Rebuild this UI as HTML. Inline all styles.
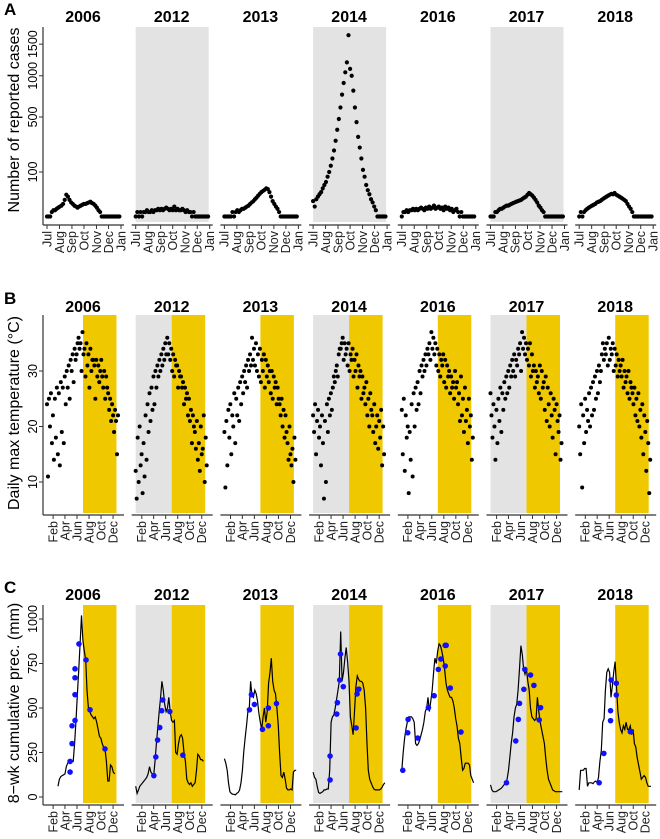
<!DOCTYPE html>
<html><head><meta charset="utf-8"><style>
html,body{margin:0;padding:0;background:#fff;}
svg{display:block;font-family:"Liberation Sans",Arial,sans-serif;}
</style></head><body>
<svg id="fig" width="660" height="839" viewBox="0 0 660 839" xmlns="http://www.w3.org/2000/svg"></svg>
<script>
// ---------- data ----------
const years = ["2006","2012","2013","2014","2016","2017","2018"];
const grayYears = [false,true,false,true,false,true,false];

// Panel A: reported cases, sampled every 4 days from Jul 1
const casesStep = 4;
const cases2006 = [0,0,0,1,2,2,3,4,5,6,8,14,24,20,14,10,8,6,5,4,5,6,7,8,8,9,10,11,9,8,6,4,2,1,0,0,0,0,0,0,0,0,0,0,0,0];
const cases2012 = [0,1,0,1,0,1,1,2,1,1,2,1,2,2,3,2,3,2,3,4,3,2,3,2,5,2,3,2,2,3,2,1,2,1,1,0,1,0,0,0,0,0,0,0,0,0];
const cases2013 = [0,0,0,0,0,1,0,1,2,1,2,3,3,4,5,6,8,10,12,15,18,22,26,30,33,36,40,38,30,20,12,8,5,3,1,0,0,0,0,0,0,0,0,0,0,0];
const cases2014 = [12,5,15,20,25,30,40,50,60,80,100,130,170,220,290,380,480,600,750,900,1050,1200,1660,1100,1000,800,600,450,320,240,170,110,80,50,35,25,15,10,5,2,0,0,0,0,0,0];
const cases2016 = [0,1,1,2,1,2,2,3,2,3,2,3,4,3,2,4,3,5,3,4,6,3,4,5,3,4,2,5,3,4,2,3,1,2,3,1,0,1,0,0,0,0,0,0,0,0];
const cases2017 = [0,0,0,1,1,2,3,3,4,5,6,6,7,8,9,10,11,12,13,14,16,18,20,24,28,25,22,18,14,10,6,4,2,1,0,0,0,0,0,0,0,0,0,0,0,0];
const cases2018 = [0,1,0,1,2,3,4,5,6,7,8,10,11,12,14,16,18,20,22,24,26,25,28,24,22,20,18,16,14,12,8,5,3,1,0,0,0,0,0,0,0,0,0,0,0,0];
const casesAll = [cases2006,cases2012,cases2013,cases2014,cases2016,cases2017,cases2018];
const casesTicks = [100,500,1000,1500];
const casesMonths = ["Jul","Aug","Sep","Oct","Nov","Dec","Jan"];
const casesMonthDays = [0,31,62,92,123,153,184];

// Panel B: daily max temperature, sampled every 5 days from Jan 1
const tempStep = 5;
const temp2006 = [24,11,25,20,26,17,22,14,25,18,27,15,26,13,28,19,27,17,29,24,30,27,31,25,32,30,33,28,34,32,33,35,36,34,35,30,37,33,34,29,35,31,33,27,34,30,32,32,31,25,32,29,31,28,30,32,29,27,30,25,29,27,26,23,25,21,24,22,19,23,21,15,22];
const temp2012 = [12,7,18,10,20,13,15,8,17,11,22,14,24,19,26,21,27,23,29,24,30,27,31,29,32,30,33,31,34,32,35,33,36,33,35,32,34,30,33,29,32,31,31,27,30,29,29,27,28,24,27,25,26,22,25,21,23,17,22,20,19,16,21,14,17,12,20,15,16,22,10,18,13];
const temp2013 = [19,9,21,13,23,18,24,15,22,20,26,17,25,22,27,21,28,24,29,26,30,28,31,27,32,30,33,31,36,32,34,31,35,30,33,29,34,28,32,30,33,27,32,29,31,28,30,26,30,25,29,27,28,24,27,25,24,22,25,20,23,18,22,19,17,14,20,15,13,16,10,18,14];
const temp2014 = [22,19,24,15,21,23,18,20,13,22,17,7,21,10,24,19,25,22,26,23,27,29,28,30,31,29,33,34,34,35,36,32,35,33,34,31,35,30,33,32,34,29,32,30,33,27,31,29,30,25,29,26,27,24,28,22,25,20,26,23,22,19,24,17,20,22,16,21,18,23,13,20,15];
const temp2016 = [23,15,25,12,22,18,20,8,19,14,24,11,26,20,27,23,28,24,30,26,31,29,32,30,33,31,34,33,35,32,37,34,36,33,35,31,34,30,33,29,32,31,33,28,32,27,31,29,30,26,29,27,28,25,30,27,28,24,26,21,29,22,25,19,27,21,23,17,25,20,22,14,18];
const temp2017 = [26,22,18,24,20,14,23,17,25,21,27,19,26,23,28,25,29,26,30,27,31,29,32,30,33,29,32,31,34,33,35,30,37,34,36,33,35,32,34,31,35,29,33,30,31,27,30,28,29,26,31,25,30,27,28,23,29,21,27,24,20,26,22,18,25,23,15,24,21,19,22,14,17];
const temp2018 = [20,15,24,9,22,17,25,19,23,21,26,20,27,22,28,23,29,25,30,26,31,28,30,33,35,32,34,33,35,31,36,32,34,33,35,30,34,31,33,29,32,30,31,29,32,27,30,28,29,26,30,25,28,27,26,24,27,22,25,21,26,20,23,18,24,15,22,19,12,21,17,8,14];
const tempAll = [temp2006,temp2012,temp2013,temp2014,temp2016,temp2017,temp2018];
const tempTicks = [10,20,30];
const yearMonths = ["Feb","Apr","Jun","Aug","Oct","Dec"];
const yearMonthDays = [31,91,152,213,274,335];

// Panel C: 8-wk cumulative precipitation, weekly from start day
const precStep = 7;
const precStart = [56,0,0,0,0,0,0];
const prec2006 = [60,100,115,120,125,130,170,190,200,210,200,200,300,430,580,720,860,1020,880,820,770,600,500,480,460,450,440,450,420,380,340,330,300,280,270,200,90,90,180,170,140,130];
const prec2012 = [60,20,40,60,70,80,90,100,110,130,170,140,130,120,200,300,390,480,560,650,600,520,480,500,560,480,430,420,430,250,240,300,340,350,330,250,200,100,80,70,80,60,70,80,150,240,230,210,210,200];
const prec2013 = [215,190,150,80,30,20,15,15,12,20,25,40,80,150,250,330,400,480,500,650,570,560,600,580,540,470,420,380,450,500,420,480,640,700,780,650,600,580,500,400,250,120,110,140,100,50,40,40,45,40,140,150,150];
const prec2014 = [140,110,100,60,25,20,25,30,40,40,45,45,150,420,450,460,500,550,600,650,930,650,700,780,840,760,650,450,400,350,480,620,680,660,650,650,640,600,500,300,150,100,80,60,45,40,40,40,40,45,55,70,80];
const prec2016 = [150,250,330,380,420,450,450,450,440,420,300,290,300,320,350,380,420,480,500,560,480,540,600,700,780,750,820,860,850,820,780,720,640,600,580,560,560,540,500,440,400,330,300,220,150,160,190,190,190,180,120,100,80];
const prec2017 = [68,40,30,30,30,35,40,45,50,60,70,80,100,150,220,300,360,450,500,520,600,720,850,800,720,690,720,650,600,500,450,440,430,440,560,480,420,380,340,300,220,150,100,80,60,40,35,30,30,30,30,30,30];
const prec2018 = [40,150,150,150,160,160,60,80,80,80,75,85,90,80,110,200,260,420,440,600,700,720,700,560,620,700,760,620,480,420,380,360,400,380,420,380,380,400,350,380,300,280,220,180,140,100,110,120,110,80,60,60,60];
const precAll = [prec2006,prec2012,prec2013,prec2014,prec2016,prec2017,prec2018];
// blue points (day of year, value)
const blueDays2006 = [117,117,127,127,142,142,142,142,162,198,218,294];
const blueVals2006 = [140,200,300,400,430,575,670,720,860,770,490,270];
const blueDays2012 = [92,102,111,122,132,137,173,239];
const blueVals2012 = [120,225,320,390,485,545,480,235];
const blueDays2013 = [127,137,152,193,223,223,264];
const blueVals2013 = [490,575,520,380,400,500,525];
const blueDays2014 = [86,86,120,123,135,139,153,218,223,232];
const blueVals2014 = [96,230,466,530,657,803,620,388,579,606];
const blueDays2016 = [5,30,32,81,135,164,185,198,220,225,220,246,300];
const blueVals2016 = [150,361,436,331,502,569,717,775,852,852,736,612,365];
const blueDays2017 = [81,128,141,147,169,174,203,220,247,254];
const blueVals2017 = [80,315,436,526,605,717,685,627,433,502];
const blueDays2018 = [101,125,159,159,162,188,188,259,264];
const blueVals2018 = [80,245,429,485,657,573,639,367,367];
const blueDaysAll = [blueDays2006,blueDays2012,blueDays2013,blueDays2014,blueDays2016,blueDays2017,blueDays2018];
const blueValsAll = [blueVals2006,blueVals2012,blueVals2013,blueVals2014,blueVals2016,blueVals2017,blueVals2018];
const precTicks = [0,250,500,750,1000];

// ---------- layout ----------
const NS = "http://www.w3.org/2000/svg";
const svg = document.getElementById("fig");
function mk(tag, attrs, parent){ const e=document.createElementNS(NS,tag); for(const k in attrs) e.setAttribute(k,attrs[k]); (parent||svg).appendChild(e); return e; }
const panelLeft = i => 43 + i*88.7;
const GRAY="#e3e3e3", GOLD="#f0c800";

const xA = (i,day) => panelLeft(i)+4 + day*(74/184);
const yA = v => 216.5 - Math.sqrt(v)*4.45;
const xY = (i,day) => panelLeft(i)+4 + day*(72/365);
const yB = t => 482 - (t-10)*5.55;
const yC = v => 797 - v*0.178;

function rotText(x,y,s,size,anchor,name){
  const t = mk("text",{transform:`translate(${x},${y}) rotate(-90)`,"font-size":size,"text-anchor":anchor,fill:"#000"});
  t.textContent=s;
  
  
  return t;
}

function drawRow(cfg){
  const g = mk("g",{});
  
  
  const L = mk("text",{x:4,y:cfg.letterY,"font-size":17,"font-weight":"bold"},g);
  L.textContent = cfg.letter;
  
  
  for(let i=0;i<7;i++){
    const left = panelLeft(i);
    const pg = mk("g",{},g);
    
    
    cfg.bands(i,pg);
    const tt = mk("text",{x:left+40,y:cfg.titleY,"font-size":16,"font-weight":"bold","text-anchor":"middle"},pg);
    tt.textContent = years[i];
    
    
    const ax = mk("line",{x1:left,x2:left+81,y1:cfg.axisY,y2:cfg.axisY,stroke:"#333","stroke-width":1.2},pg);
    
    
    cfg.months.forEach((m,k)=>{
      const x = cfg.xs(i,cfg.monthDays[k]);
      mk("line",{x1:x,x2:x,y1:cfg.axisY,y2:cfg.axisY+4,stroke:"#333","stroke-width":1},pg);
      const t = mk("text",{transform:`translate(${x+4.3},${cfg.axisY+6}) rotate(-90)`,"font-size":12.5,"text-anchor":"end",fill:"#222"},pg);
      t.textContent = m;
      
      
    });
    cfg.marks(i,pg);
  }
  const ya = mk("line",{x1:43,x2:43,y1:cfg.top,y2:cfg.axisY,stroke:"#333","stroke-width":1.2},g);
  
  
  cfg.ticks.forEach(v=>{
    const y = cfg.ys(v);
    mk("line",{x1:39,x2:43,y1:y,y2:y,stroke:"#333","stroke-width":1},g);
    rotText(37,y,String(v),12.5,"middle",'y-tick-label');
  });
  rotText(19,cfg.titleMid,cfg.ytitle,16,"middle",'y-axis-title');
}

drawRow({name:"panel-a-cases",letter:"A",letterY:15,titleY:22,top:27,axisY:225,
  months:casesMonths,monthDays:casesMonthDays,xs:xA,ys:yA,ticks:casesTicks,
  ytitle:"Number of reported cases",titleMid:120,
  bands:(i,pg)=>{ if(grayYears[i]){ const r=mk("rect",{x:panelLeft(i)+4,y:27,width:73,height:195,fill:GRAY},pg);
      } },
  marks:(i,pg)=>{ casesAll[i].forEach((v,k)=>{ const c=mk("circle",{cx:xA(i,k*casesStep),cy:yA(v),r:2.1,fill:"#000"},pg);
      }); }
});

drawRow({name:"panel-b-temperature",letter:"B",letterY:304,titleY:312,top:315,axisY:515,
  months:yearMonths,monthDays:yearMonthDays,xs:xY,ys:yB,ticks:tempTicks,
  ytitle:"Daily max temperature (°C)",titleMid:413,
  bands:(i,pg)=>{ const l=panelLeft(i);
    if(grayYears[i]){ const r=mk("rect",{x:l+4,y:315,width:36,height:198,fill:GRAY},pg);   }
    const y=mk("rect",{x:l+40,y:315,width:33.5,height:198,fill:GOLD},pg);   },
  marks:(i,pg)=>{ tempAll[i].forEach((v,k)=>{ const c=mk("circle",{cx:xY(i,k*tempStep),cy:yB(v),r:2.0,fill:"#000"},pg);
      }); }
});

drawRow({name:"panel-c-precipitation",letter:"C",letterY:593,titleY:600,top:605,axisY:805,
  months:yearMonths,monthDays:yearMonthDays,xs:xY,ys:yC,ticks:precTicks,
  ytitle:"8\u2212wk cumulative prec. (mm)",titleMid:703,
  bands:(i,pg)=>{ const l=panelLeft(i);
    if(grayYears[i]){ const r=mk("rect",{x:l+4,y:605,width:36,height:198,fill:GRAY},pg);   }
    const y=mk("rect",{x:l+40,y:605,width:33.5,height:198,fill:GOLD},pg);   },
  marks:(i,pg)=>{
    const pts = precAll[i].map((v,k)=>xY(i,precStart[i]+k*precStep).toFixed(1)+","+yC(v).toFixed(1));
    const pl = mk("polyline",{points:pts.join(" "),fill:"none",stroke:"#000","stroke-width":1.2},pg);
     
    blueDaysAll[i].forEach((d,k)=>{ const c=mk("circle",{cx:xY(i,d),cy:yC(blueValsAll[i][k]),r:2.8,fill:"#1010ff"},pg);
        });
  }
});
</script>
</body></html>
